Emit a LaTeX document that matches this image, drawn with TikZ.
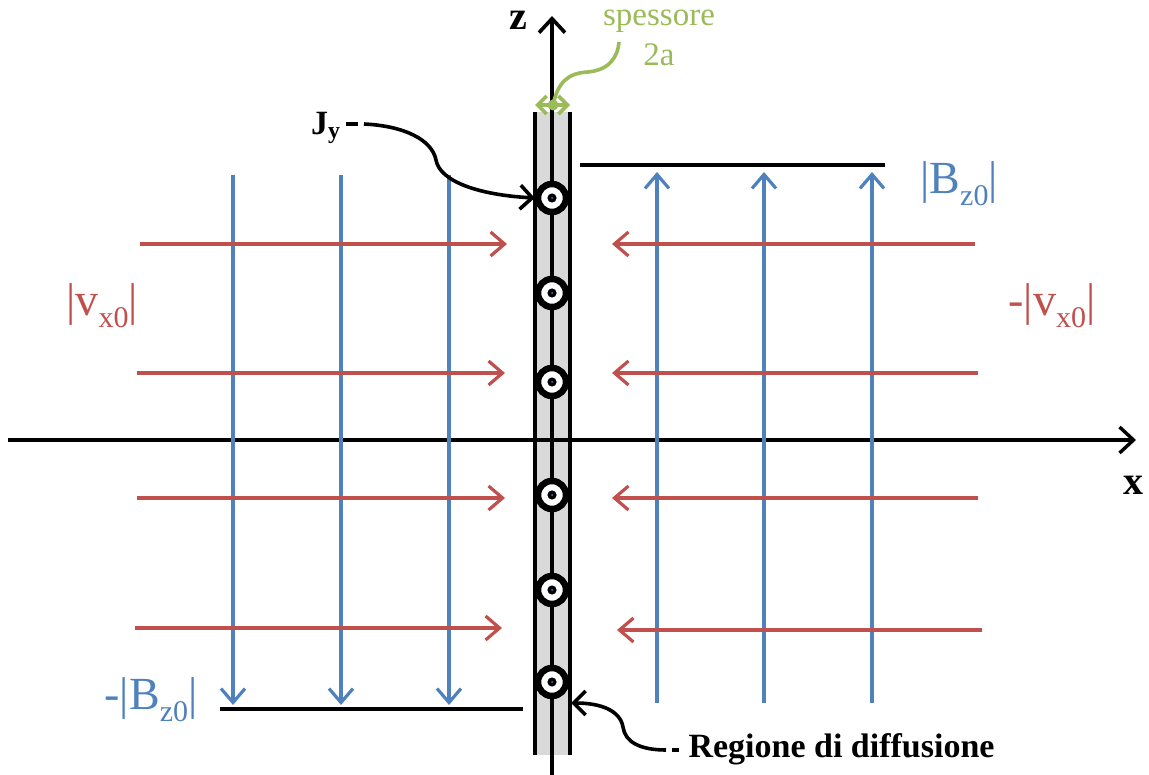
\documentclass[tikz,border=0pt]{standalone}
\usepackage{fontspec}
\setmainfont{Liberation Serif}
\usetikzlibrary{arrows.meta}
\definecolor{cred}{HTML}{C0504D}
\definecolor{cblue}{HTML}{4F81BD}
\definecolor{cgreen}{HTML}{9BBB59}
\definecolor{cgray}{HTML}{D9D9D9}
\newcommand{\lowsub}[1]{\raisebox{-12pt}{\fontsize{30}{30}\selectfont #1}}
\begin{document}
\begin{tikzpicture}[x=1pt,y=-1pt,
  barb/.style={-{Straight Barb[length=14pt,width=24pt,line width=3.2pt]}},
  bfield/.style={cblue,line width=3.4pt,barb},
  vfield/.style={cred,line width=3.8pt,barb},
  blk/.style={black,line width=3.8pt},
  cur/.style={circle,draw=black,line width=6.5pt,fill=white,minimum size=28pt,inner sep=0pt},
  bigl/.style={font=\fontsize{46}{46}\selectfont},
  boldl/.style={font=\fontsize{34}{36}\selectfont\bfseries},
]
\useasboundingbox (0,0) rectangle (1149,775);
% slab
\fill[cgray] (535,112) rectangle (570,755);
\draw[blk] (535,112) -- (535,755);
\draw[blk] (570,112) -- (570,755);
% axes
\coordinate (zb) at (552,775);
\coordinate (zt) at (552,16);
\draw[black,line width=3.6pt,-{Straight Barb[length=14pt,width=26pt,line width=3.6pt]}] (zb) -- (zt);
\coordinate (xl) at (8,440);
\coordinate (xr) at (1136,440);
\draw[black,line width=3.4pt,-{Straight Barb[length=14pt,width=26pt,line width=3.4pt]}] (xl) -- (xr);
\node[font=\fontsize{40}{40}\selectfont\bfseries] (zlab) at (518,20) {z};
\node[font=\fontsize{40}{40}\selectfont\bfseries] (xlab) at (1133,485) {x};
% black lines
\coordinate (bt1) at (580,165); \coordinate (bt2) at (885,165);
\draw[blk] (bt1) -- (bt2);
\coordinate (bb1) at (220,709); \coordinate (bb2) at (523,709);
\draw[blk] (bb1) -- (bb2);
% blue field lines
\foreach \xx/\n in {233/a,341/b,449/c}{
  \coordinate (bl\n1) at (\xx,175); \coordinate (bl\n2) at (\xx,705);
  \draw[bfield] (bl\n1) -- (bl\n2);
}
\foreach \xx/\n in {657/a,764/b,872/c}{
  \coordinate (br\n1) at (\xx,703); \coordinate (br\n2) at (\xx,172);
  \draw[bfield] (br\n1) -- (br\n2);
}
% red velocity arrows
\foreach \ya/\xa/\xb/\n in {244/140/507/a,373/137/505/b,498/137/505/c,628/135/502/d}{
  \coordinate (vl\n1) at (\xa,\ya); \coordinate (vl\n2) at (\xb,\ya);
  \draw[vfield] (vl\n1) -- (vl\n2);
}
\foreach \ya/\xa/\xb/\n in {244/975/612/a,373/978/612/b,498/978/612/c,630/982/617/d}{
  \coordinate (vr\n1) at (\xa,\ya); \coordinate (vr\n2) at (\xb,\ya);
  \draw[vfield] (vr\n1) -- (vr\n2);
}
% current symbols
\foreach \yy/\n in {198/1,293/2,382/3,495/4,590/5,682/6}{
  \node[cur] (c\n) at (552,\yy) {};
  \fill[black] (c\n) circle (4.6pt);
  \fill[cblue] (c\n) circle (1pt);
}
% thickness marker
\coordinate (gl) at (535,105); \coordinate (gr) at (570,105); \coordinate (gm) at (553,105);
\draw[cgreen,line width=3.6pt,{Straight Barb[length=9pt,width=18pt,line width=3.6pt]}-{Straight Barb[length=9pt,width=18pt,line width=3.6pt]}] (gl) -- (gr);
\fill[cgreen] (gm) circle (5.5pt);
\node[text=cgreen,font=\fontsize{33}{40}\selectfont,align=center] (sp) at (659,38) {spessore\\2a};
\draw[cgreen,line width=3.6pt] (gm) .. controls (558,82) and (568,73) .. (588,72) .. controls (610,70) and (618,56) .. (619,42);
% Jy
\node[boldl,anchor=east] (jy) at (344,128) {J\textsubscript{y}};
\draw[black,line width=3.6pt] (346,124) -- (358,124);
\draw[black,line width=3.6pt,-{Straight Barb[length=12pt,width=24pt,line width=3.6pt]}] (364,124) .. controls (405,126) and (432,140) .. (436,160) .. controls (440,182) and (480,195) .. (c1.west);
% Regione di diffusione
\node[boldl,anchor=west] (reg) at (685,749) {Regione di diffusione};
\draw[black,line width=3.6pt] (reg.west) ++(-6,1) -- ++(-7,0);
\draw[black,line width=3.6pt,-{Straight Barb[length=12pt,width=24pt,line width=3.6pt]}] (666,750) .. controls (640,750) and (625,742) .. (623,727) .. controls (620,710) and (600,703) .. (571,703);
% labels
\node[bigl,text=cblue] (bz) at (959,184) {|B\lowsub{z0}|};
\node[bigl,text=cblue] (mbz) at (151,700) {-|B\lowsub{z0}|};
\node[bigl,text=cred] (vx) at (102,306) {|v\lowsub{x0}|};
\node[bigl,text=cred] (mvx) at (1052,306) {-|v\lowsub{x0}|};
\end{tikzpicture}
\end{document}
